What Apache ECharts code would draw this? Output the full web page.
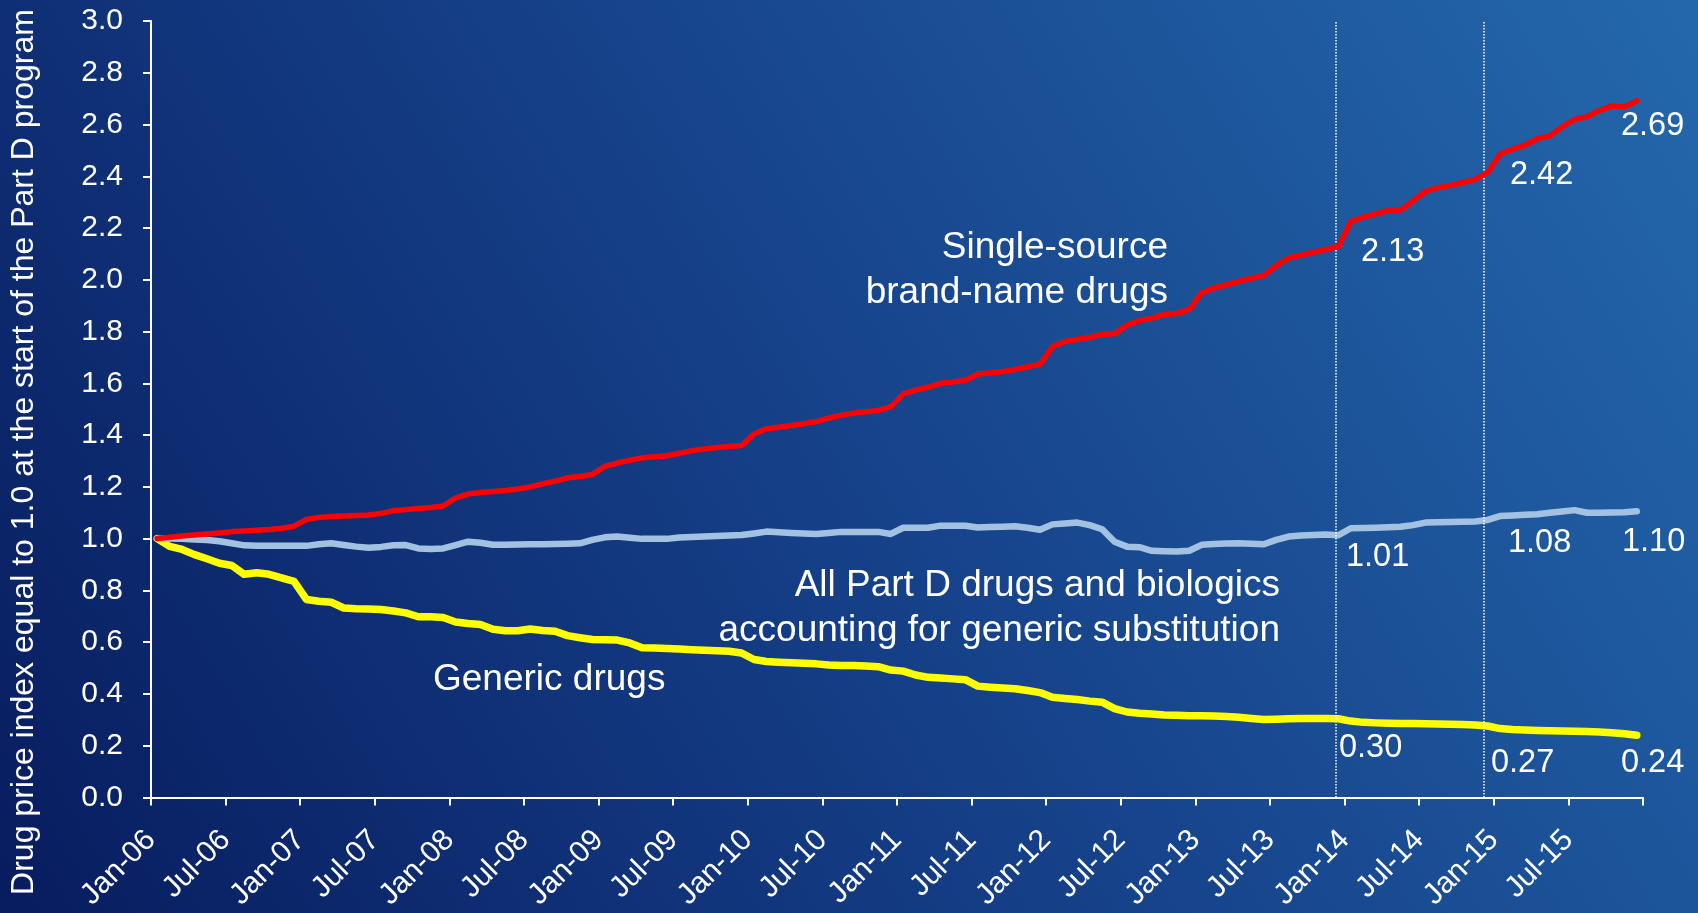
<!DOCTYPE html>
<html>
<head>
<meta charset="utf-8">
<script src="https://cdn.jsdelivr.net/npm/echarts@6/dist/echarts.min.js"></script>
<style>
html,body{margin:0;padding:0;background:#0b2468;}
#chart{width:1698px;height:913px;}
</style>
</head>
<body>
<div id="chart"></div>
<script>
// ---- Data (monthly, Jan-06 .. Dec-15) ----
const tickLabels = ['Jan-06','Jul-06','Jan-07','Jul-07','Jan-08','Jul-08','Jan-09','Jul-09','Jan-10','Jul-10',
  'Jan-11','Jul-11','Jan-12','Jul-12','Jan-13','Jul-13','Jan-14','Jul-14','Jan-15','Jul-15',''];

const brandName = [
  1.000,1.005,1.010,1.014,1.018,1.022,1.027,1.029,1.032,1.035,1.040,1.048,
  1.074,1.082,1.085,1.087,1.089,1.091,1.097,1.108,1.112,1.116,1.120,1.126,
  1.157,1.172,1.178,1.182,1.186,1.192,1.200,1.212,1.222,1.235,1.240,1.248,
  1.279,1.292,1.303,1.312,1.316,1.320,1.330,1.340,1.346,1.352,1.356,1.360,
  1.405,1.424,1.430,1.437,1.444,1.452,1.466,1.476,1.485,1.490,1.495,1.510,
  1.559,1.574,1.585,1.600,1.605,1.612,1.636,1.640,1.646,1.654,1.664,1.674,
  1.742,1.762,1.770,1.778,1.790,1.792,1.825,1.843,1.852,1.866,1.870,1.886,
  1.950,1.969,1.980,1.995,2.006,2.017,2.055,2.085,2.095,2.107,2.117,2.130,
  2.226,2.242,2.255,2.268,2.270,2.305,2.342,2.356,2.365,2.376,2.388,2.415,
  2.486,2.505,2.520,2.546,2.556,2.592,2.620,2.630,2.655,2.672,2.668,2.692
];

const allPartD = [
  1.000,1.000,0.999,0.997,0.995,0.990,0.982,0.974,0.972,0.972,0.972,0.972,
  0.972,0.978,0.982,0.975,0.969,0.965,0.968,0.974,0.975,0.962,0.960,0.962,
  0.975,0.988,0.984,0.976,0.976,0.977,0.978,0.978,0.979,0.980,0.982,0.995,
  1.005,1.008,1.003,0.999,0.999,0.999,1.004,1.006,1.008,1.010,1.012,1.014,
  1.020,1.027,1.025,1.022,1.020,1.018,1.022,1.026,1.026,1.026,1.026,1.018,
  1.042,1.042,1.042,1.050,1.050,1.050,1.043,1.045,1.046,1.048,1.042,1.034,
  1.055,1.058,1.062,1.052,1.036,0.988,0.969,0.967,0.953,0.951,0.950,0.953,
  0.976,0.979,0.981,0.982,0.980,0.978,0.995,1.008,1.012,1.014,1.016,1.013,
  1.040,1.041,1.042,1.044,1.046,1.052,1.062,1.063,1.064,1.065,1.066,1.072,
  1.087,1.089,1.092,1.094,1.100,1.105,1.110,1.100,1.100,1.101,1.102,1.106
];

const generic = [
  1.000,0.970,0.958,0.938,0.922,0.905,0.896,0.862,0.868,0.862,0.848,0.835,
  0.765,0.758,0.754,0.732,0.729,0.728,0.726,0.720,0.713,0.698,0.698,0.695,
  0.678,0.672,0.668,0.650,0.644,0.644,0.651,0.645,0.642,0.625,0.617,0.610,
  0.609,0.608,0.597,0.578,0.577,0.575,0.573,0.571,0.569,0.567,0.565,0.558,
  0.533,0.525,0.522,0.520,0.518,0.516,0.512,0.510,0.510,0.508,0.505,0.492,
  0.488,0.473,0.464,0.461,0.458,0.455,0.430,0.426,0.423,0.420,0.413,0.405,
  0.387,0.382,0.378,0.372,0.368,0.343,0.330,0.325,0.322,0.318,0.317,0.316,
  0.316,0.315,0.313,0.310,0.305,0.301,0.302,0.304,0.305,0.305,0.305,0.304,
  0.295,0.290,0.288,0.287,0.286,0.286,0.285,0.284,0.283,0.282,0.280,0.276,
  0.266,0.262,0.260,0.259,0.258,0.257,0.256,0.255,0.253,0.250,0.246,0.240
];

// Dotted reference lines (months after Jan-06: end of 2013, end of 2014)
const dividerMonths = [95.3, 107.2];
// Annotated values at Dec-13, Dec-14, Dec-15
const brandLabels   = ['2.13','2.42','2.69'];
const allLabels     = ['1.01','1.08','1.10'];
const genericLabels = ['0.30','0.27','0.24'];

// ---- Chart ----
const FONT = '"Liberation Sans", Arial, sans-serif';
const toPairs = arr => arr.map((v, i) => [i + 0.5, v]);

const chart = echarts.init(document.getElementById('chart'), null, {renderer: 'canvas'});

function txt(text, x, y, size, align, vAlign, extra) {
  return Object.assign({
    type: 'text', x: x, y: y, z: 100, silent: true,
    style: {
      text: text, fill: '#ffffff',
      font: size + 'px ' + FONT,
      textAlign: align, align: align,
      textVerticalAlign: vAlign, verticalAlign: vAlign
    }
  }, extra || {});
}

const valueLabelPos = [
  [brandLabels,   [[1361, 252], [1510, 175], [1621, 126]]],
  [allLabels,     [[1346, 557], [1508, 543], [1622, 542]]],
  [genericLabels, [[1339, 748], [1491, 763], [1621, 763]]]
];
const valueTexts = [];
valueLabelPos.forEach(([labels, pos]) => {
  labels.forEach((t, k) => valueTexts.push(txt(t, pos[k][0], pos[k][1], 32.5, 'left', 'middle')));
});

const option = {
  animation: false,
  backgroundColor: 'transparent',
  grid: {left: 151, right: 55, top: 21, bottom: 111, containLabel: false},
  xAxis: {
    type: 'value', min: 0, max: 120, interval: 6,
    axisLine: {show: true, lineStyle: {color: '#ffffff', width: 2}},
    axisTick: {show: true, length: 8, lineStyle: {color: '#ffffff', width: 2}},
    splitLine: {show: false},
    axisLabel: {
      color: '#ffffff', fontSize: 30, fontFamily: FONT, rotate: 45, margin: 38,
      showMinLabel: true, showMaxLabel: true,
      formatter: v => tickLabels[Math.round(v / 6)] || ''
    }
  },
  yAxis: {
    type: 'value', min: 0, max: 3, interval: 0.2,
    axisLine: {show: true, lineStyle: {color: '#ffffff', width: 2}},
    axisTick: {show: true, length: 8, lineStyle: {color: '#ffffff', width: 2}},
    splitLine: {show: false},
    axisLabel: {color: '#ffffff', fontSize: 30, fontFamily: FONT, margin: 28,
      padding: [4, 0, 0, 0],
      formatter: v => v.toFixed(1)}
  },
  graphic: [
    {
      type: 'rect', z: -100, silent: true,
      shape: {x: 0, y: 0, width: 1698, height: 913},
      style: {
        fill: new echarts.graphic.LinearGradient(0, 913, 1635, -101, [
          {offset: 0, color: '#081c5f'},
          {offset: 0.5, color: '#16428a'},
          {offset: 1, color: '#2468ac'}
        ], true)
      }
    },
    txt('Drug price index equal to 1.0 at the start of the Part D program', 24, 452, 32, 'center', 'middle', {rotation: Math.PI / 2}),
    txt('Single-source', 1168, 248, 37, 'right', 'middle'),
    txt('brand-name drugs', 1168, 292.5, 37, 'right', 'middle'),
    txt('All Part D drugs and biologics', 1280, 585.5, 37, 'right', 'middle'),
    txt('accounting for generic substitution', 1280, 630.5, 37, 'right', 'middle'),
    txt('Generic drugs', 433, 679.5, 37, 'left', 'middle')
  ].concat(valueTexts),
  series: [
    {
      name: 'Generic drugs', type: 'line', data: toPairs(generic),
      showSymbol: false, symbol: 'none', z: 3,
      lineStyle: {color: '#ffff00', width: 7.5, cap: 'round', join: 'round'}
    },
    {
      name: 'All Part D drugs and biologics', type: 'line', data: toPairs(allPartD),
      showSymbol: false, symbol: 'none', z: 4,
      lineStyle: {color: '#a3c2e2', width: 6.5, cap: 'round', join: 'round'}
    },
    {
      name: 'Single-source brand-name drugs', type: 'line', data: toPairs(brandName),
      showSymbol: false, symbol: 'none', z: 5,
      lineStyle: {color: '#ff0000', width: 5.5, cap: 'round', join: 'round'},
      markLine: {
        silent: true, symbol: ['none', 'none'], label: {show: false},
        lineStyle: {color: '#ffffff', type: 'dotted', width: 1.5},
        data: dividerMonths.map(m => ({xAxis: m}))
      }
    }
  ]
};
chart.setOption(option);
</script>
</body>
</html>
